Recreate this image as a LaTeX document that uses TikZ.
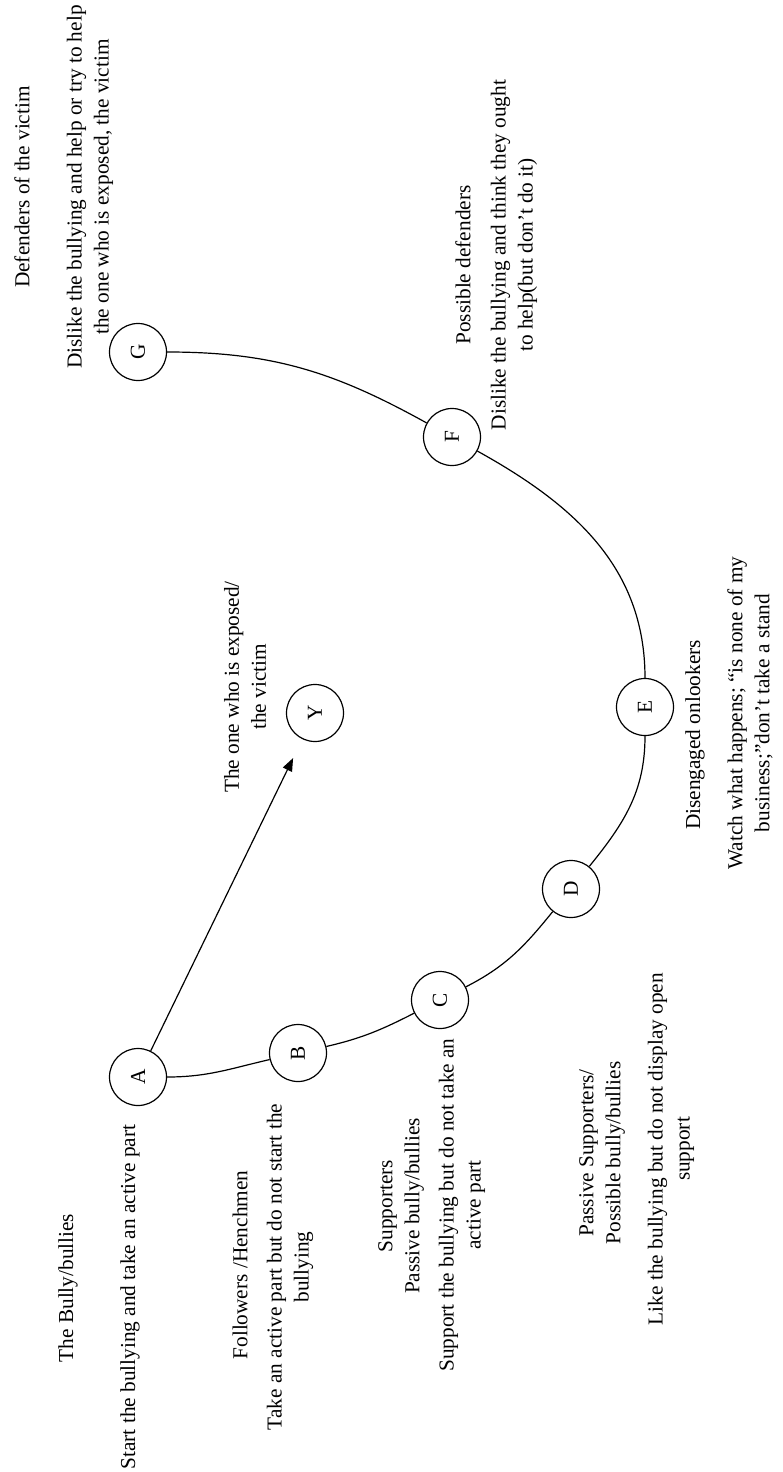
\documentclass[tikz,border=0pt]{standalone}
\usepackage{fontspec}
\setmainfont{Liberation Serif}
\usetikzlibrary{arrows.meta}
\begin{document}
\begin{tikzpicture}[x=1pt,y=1pt,
  every node/.style={font=\fontsize{21.3}{27}\selectfont},
  circ/.style={circle,draw,line width=1.2pt,minimum size=57pt,inner sep=0pt},
  lbl/.style={rotate=90,align=center,inner sep=0pt},
  link/.style={line width=1.2pt}]
\useasboundingbox (0,0) rectangle (782,-1472);
% circles
\node[circ] (A) at (138,-1077) {\rotatebox{90}{A}};
\node[circ] (B) at (298,-1053) {\rotatebox{90}{B}};
\node[circ] (C) at (440,-1000) {\rotatebox{90}{C}};
\node[circ] (D) at (571,-889) {\rotatebox{90}{D}};
\node[circ] (E) at (645,-707) {\rotatebox{90}{E}};
\node[circ] (F) at (452,-437) {\rotatebox{90}{F}};
\node[circ] (G) at (138,-352) {\rotatebox{90}{G}};
\node[circ] (Y) at (315,-713) {\rotatebox{90}{Y}};
% labels
\node[lbl] (tA) at (68,-1288) {The Bully/bullies};
\node[lbl] (dA) at (130,-1297) {Start the bullying and take an active part};
\node[lbl] (tB) at (240,-1265) {Followers /Henchmen};
\node[lbl] (dB) at (290,-1267) {Take an active part but do not start the\\bullying};
\node[lbl] (tC) at (401,-1206) {Supporters\\Passive bully/bullies};
\node[lbl] (dC) at (462,-1205) {Support the bullying but do not take an\\active part};
\node[lbl] (tD) at (602,-1153) {Passive Supporters/\\Possible bully/bullies};
\node[lbl] (dD) at (671,-1149) {Like the bullying but do not display open\\support};
\node[lbl] (tE) at (695,-735) {Disengaged onlookers};
\node[lbl] (dE) at (750,-713) {Watch what happens; “is none of my\\business;”don’t take a stand};
\node[lbl] (tY) at (245,-687) {The one who is exposed/\\the victim};
\node[lbl] (tF) at (463,-265) {Possible defenders};
\node[lbl] (dF) at (514,-255) {Dislike the bullying and think they ought\\to help(but don’t do it)};
\node[lbl] (tG) at (22,-187) {Defenders of the victim};
\node[lbl] (dG) at (90,-187) {Dislike the bullying and help or try to help\\the one who is exposed, the victim};
% connectors
\draw[link] (A) to[out=0,in=193] (B);
\draw[link] (B) to[out=13,in=207] (C);
\draw[link] (C) to[out=27,in=231] (D);
\draw[link] (D) to[out=51,in=270] (E);
\draw[link] (E) to[out=90,in=331] (F);
\draw[link] (F) to[out=151,in=0] (G);
\draw[link,-{Triangle[length=13pt,width=10pt]},shorten >=21pt] (A) -- (Y);
\end{tikzpicture}
\end{document}
